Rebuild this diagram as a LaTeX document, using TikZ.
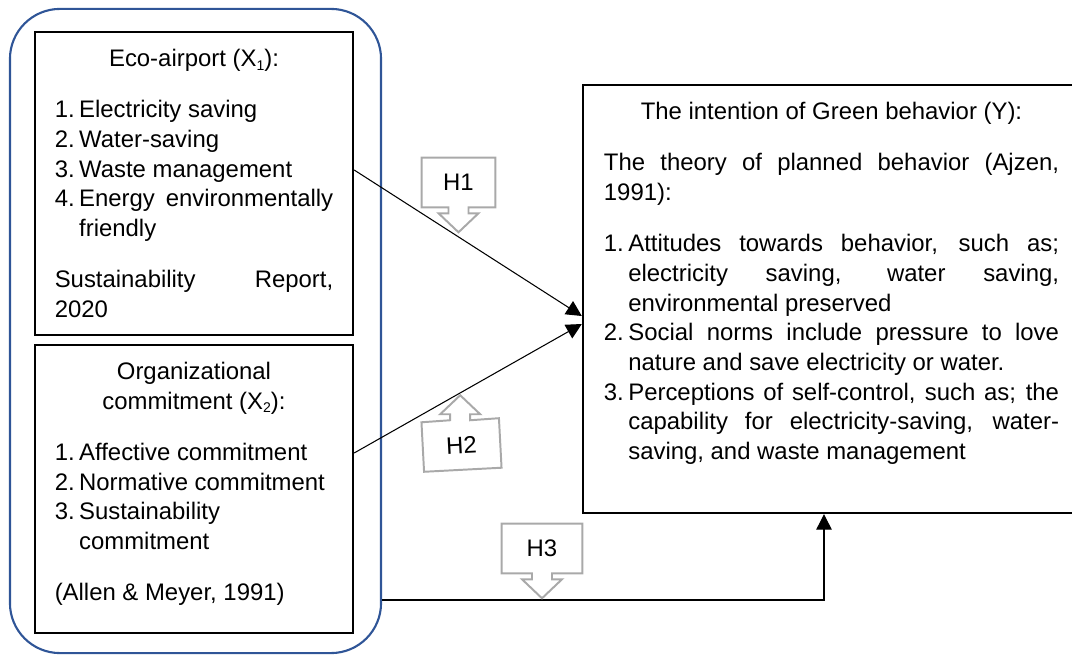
\documentclass[tikz,border=0pt]{standalone}
\usepackage{fontspec}
\setmainfont{Liberation Sans}
\usepackage{tikz}
\usetikzlibrary{arrows.meta,calc}
\definecolor{grpblue}{HTML}{2F5597}
\definecolor{hgray}{HTML}{A9A9A9}
\newcommand{\boxfont}{\fontsize{17}{21.1}\selectfont}
\newcommand{\boxtext}[3]{\parbox[c][#1][t]{#2}{\boxfont\hyphenpenalty=10000\relax #3}}
\newcommand{\boxtitle}[1]{{\centering\rule{0pt}{24.7pt}#1\par}}
\newcommand{\litem}[2]{\par\hangindent=0.61cm\hangafter=1\noindent\makebox[0.61cm][l]{#1}#2\par}
\newcommand{\gap}{\vspace{15.3pt}}
\newcommand{\sub}[1]{\raisebox{-2.5pt}{\fontsize{10}{10}\selectfont #1}}
\tikzset{
  grpframe/.style={draw=grpblue,line width=1.5pt,rounded corners=1.25cm,minimum width=9.275cm,minimum height=16.1cm,inner sep=0pt},
  factor/.style={draw,line width=1.6pt,inner xsep=0.495cm,inner ysep=0pt},
  goalbox/.style={draw,line width=1.6pt,inner xsep=0.525cm,inner ysep=0pt},
  link/.style={-{Triangle[length=11pt,width=11pt]},line width=0.75pt},
  hcall/.style={minimum height=1.225cm,inner sep=0pt,font=\boxfont},
  hshape/.style={draw=hgray,line width=1.4pt,line join=miter}
}

\begin{document}
\begin{tikzpicture}[x=0.025cm,y=-0.025cm]
\useasboundingbox (0,0) rectangle (1072,655);
\clip (0,0) rectangle (1072,655);
\node[grpframe] (grp) at (195.5,331) {};
\node[factor] (eco) at (194,183.5) {\boxtext{7.575cm}{6.96cm}{%
  \boxtitle{Eco-airport (X\sub{1}):}\gap
  \litem{1.}{Electricity saving}
  \litem{2.}{Water-saving}
  \litem{3.}{Waste management}
  \litem{4.}{Energy environmentally\linebreak friendly}\gap
  \noindent Sustainability Report,\linebreak 2020\par}};
\node[factor] (org) at (194,489) {\boxtext{7.2cm}{6.96cm}{%
  \boxtitle{Organizational\\commitment (X\sub{2}):}\gap
  \litem{1.}{Affective commitment}
  \litem{2.}{Normative commitment}
  \litem{3.}{Sustainability\newline commitment}\gap
  \noindent(Allen \& Meyer, 1991)\par}};
\node[goalbox] (tpb) at (831.5,299) {\boxtext{10.7cm}{11.375cm}{%
  \boxtitle{The intention of Green behavior (Y):}\gap
  \noindent The theory of planned behavior (Ajzen,\linebreak 1991):\par\gap
  \litem{1.}{Attitudes towards behavior, such as;\linebreak electricity saving, water saving,\linebreak environmental preserved}
  \litem{2.}{Social norms include pressure to love\linebreak nature and save electricity or water.}
  \litem{3.}{Perceptions of self-control, such as; the\linebreak capability for electricity-saving, water-\linebreak saving, and waste management}}};
\draw[link] ($(eco.east)+(0,-13.5)$) -- ($(tpb.west)+(0,17)$);
\draw[link] ($(org.east)+(0,-36)$) -- ($(tpb.west)+(0,25)$);
\draw[link] ($(grp.east)+(0,269)$) -| ($(tpb.south)+(-7.5,0)$);
\node[hcall,minimum width=1.825cm] (h1) at (458.5,182.5) {H1};
\node[hcall,minimum width=1.925cm,rotate=3] (h2) at (461.5,445) {H2};
\node[hcall,minimum width=2cm] (h3) at (542,548.5) {H3};
\foreach \h in {h1,h3}{
  \draw[hshape] (\h.north west) -- (\h.north east) -- (\h.south east) -- ($(\h.south)+(10,0)$) -- ++(0,6) -- ++(10,0)
    -- ($(\h.south)+(0,25)$) -- ($(\h.south)+(-20,6)$) -- ++(10,0) -- ++(0,-6) -- (\h.south west) -- cycle;
}
\draw[hshape] (h2.south west) -- (h2.south east) -- (h2.north east) -- ($(h2.north)+(10,0)$) -- ++(0,-6) -- ++(10,0)
  -- ($(h2.north)+(0,-25)$) -- ($(h2.north)+(-20,-6)$) -- ++(10,0) -- ++(0,6) -- (h2.north west) -- cycle;
\end{tikzpicture}
\end{document}
